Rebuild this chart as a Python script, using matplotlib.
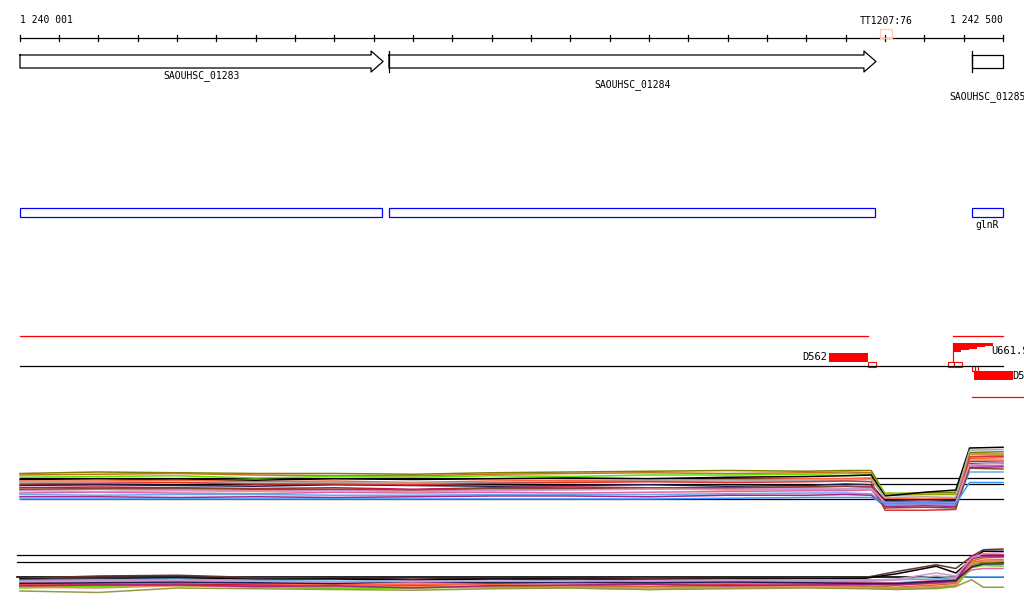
import matplotlib.pyplot as plt

# view and ruler
view_start = 1240001
view_end = 1242500
px_per_bp = 983 / 2499.0

# genes (bp)
gene_names = ['SAOUHSC_01283', 'SAOUHSC_01284', 'SAOUHSC_01285']
gene_starts = [1239800, 1240939, 1242421]
gene_ends = [1240924, 1242177, 1242700]
gene_label_y = [76, 85, 97]
operon_label = ['', '', 'glnR']

# terminator
term_name = 'TT1207:76'
term_pos = 1242202

# expression panel 1 (x positions in bp)
x1 = [1240001, 1240200, 1240400, 1240600, 1240800, 1241000, 1241200, 1241400, 1241600,
      1241800, 1242000, 1242100, 1242165, 1242200, 1242300, 1242380, 1242415, 1242500]
panel1 = {
    '#808000': [10.2, 10.4, 10.3, 10.2, 10.2, 10.1, 10.3, 10.4, 10.5, 10.6, 10.5, 10.6, 10.6, 7.5, 7.6, 7.7, 13.0, 13.1],
    '#c87020': [10.0, 10.1, 10.2, 10.0, 9.9, 9.9, 10.1, 10.2, 10.3, 10.2, 10.3, 10.4, 10.3, 7.3, 7.4, 7.4, 12.8, 12.8],
    '#66dd00': [9.7, 9.8, 9.9, 9.6, 9.8, 9.7, 9.9, 9.8, 10.0, 10.0, 10.1, 10.2, 10.1, 7.6, 7.5, 7.5, 12.5, 12.6],
    '#000000': [9.4, 9.5, 9.4, 9.3, 9.5, 9.4, 9.5, 9.6, 9.5, 9.7, 9.8, 9.9, 10.0, 7.2, 7.7, 8.0, 13.6, 13.7],
    '#ff6633': [9.2, 9.2, 9.3, 9.1, 9.2, 9.0, 9.2, 9.3, 9.3, 9.4, 9.5, 9.5, 9.6, 6.9, 6.8, 6.9, 12.2, 12.3],
    '#aaaaaa': [9.0, 9.1, 9.0, 8.9, 9.0, 8.9, 9.0, 9.1, 9.2, 9.2, 9.3, 9.3, 9.4, 7.0, 7.1, 7.0, 13.3, 13.4],
    '#202050': [8.6, 8.7, 8.6, 8.5, 8.7, 8.6, 8.5, 8.6, 8.7, 8.5, 8.6, 8.8, 8.7, 6.6, 6.7, 6.6, 11.5, 11.6],
    '#cc1144': [8.3, 8.4, 8.3, 8.2, 8.3, 8.1, 8.3, 8.4, 8.3, 8.2, 8.4, 8.5, 8.4, 6.4, 6.5, 6.4, 11.8, 11.9],
    '#ee8866': [8.0, 8.1, 8.0, 7.9, 8.0, 7.9, 8.0, 8.1, 8.2, 8.0, 8.1, 8.1, 8.2, 6.2, 6.3, 6.2, 12.0, 12.0],
    '#dd66aa': [7.6, 7.7, 7.6, 7.5, 7.7, 7.6, 7.7, 7.6, 7.7, 7.8, 7.9, 7.9, 8.0, 6.0, 6.1, 6.0, 11.2, 11.3],
    '#66aaee': [7.4, 7.3, 7.4, 7.4, 7.3, 7.3, 7.4, 7.4, 7.4, 7.5, 7.6, 7.6, 7.5, 6.1, 6.2, 6.1, 10.4, 10.4],
    '#aa2288': [7.1, 7.1, 7.0, 7.1, 7.0, 7.1, 7.2, 7.2, 7.1, 7.3, 7.3, 7.4, 7.3, 5.8, 5.9, 5.8, 11.0, 11.1],
    '#dd3333': [8.8, 8.9, 9.0, 8.8, 8.8, 8.7, 8.9, 9.0, 9.1, 9.0, 9.1, 9.2, 9.1, 5.3, 5.3, 5.4, 12.4, 12.5],
    '#884433': [8.1, 8.2, 8.2, 8.1, 8.1, 8.0, 8.2, 8.2, 8.3, 8.3, 8.4, 8.5, 8.4, 5.6, 5.7, 5.6, 10.9, 10.8],
    '#cc99cc': [7.9, 7.8, 7.9, 7.8, 7.9, 7.8, 7.9, 8.0, 8.1, 8.1, 8.2, 8.2, 8.2, 6.3, 6.4, 6.3, 11.4, 11.6],
    '#3399ff': [6.8, 6.8, 6.8, 6.8, 6.8, 6.8, 6.8, 6.8, 6.8, 6.9, 7.0, 7.0, 7.0, 6.2, 6.3, 6.2, 9.0, 9.0],
}
panel1_ref = [9.6, 8.8, 6.8]

# expression panel 2
x2 = [1240001, 1240200, 1240400, 1240600, 1240800, 1241000, 1241200, 1241400, 1241600,
      1241800, 1242000, 1242150, 1242230, 1242330, 1242380, 1242420, 1242450, 1242500]
panel2 = {
    '#663333': [6.9, 7.2, 7.3, 7.0, 6.9, 6.8, 6.9, 6.8, 6.9, 6.8, 6.9, 7.0, 7.8, 8.7, 8.2, 9.8, 10.7, 10.8],
    '#000000': [6.8, 6.8, 6.9, 6.8, 6.8, 6.7, 6.8, 6.8, 6.7, 6.8, 6.8, 6.9, 7.5, 8.5, 7.6, 9.4, 10.5, 10.5],
    '#66aaee': [6.6, 6.7, 6.8, 6.6, 6.5, 6.6, 6.5, 6.6, 6.6, 6.7, 6.6, 6.7, 6.7, 6.8, 7.0, 7.1, 7.1, 7.1],
    '#aaaaaa': [6.4, 6.5, 6.6, 6.4, 6.4, 6.5, 6.4, 6.5, 6.4, 6.5, 6.6, 6.5, 6.7, 7.2, 7.0, 8.8, 9.3, 9.3],
    '#808000': [5.9, 5.8, 6.0, 5.9, 5.6, 5.7, 5.8, 5.9, 5.8, 5.9, 6.0, 5.8, 5.5, 5.6, 5.9, 8.6, 9.0, 9.1],
    '#c87020': [5.8, 5.9, 6.1, 6.0, 5.8, 5.9, 5.8, 5.9, 5.8, 5.9, 5.8, 5.9, 5.7, 6.0, 6.2, 9.2, 9.6, 9.7],
    '#66dd00': [5.6, 5.8, 5.9, 5.7, 5.5, 5.6, 5.7, 5.6, 5.4, 5.6, 5.7, 5.6, 5.5, 5.5, 5.8, 8.3, 8.6, 8.5],
    '#cc1144': [6.0, 6.1, 6.2, 6.0, 6.1, 6.0, 6.2, 6.3, 6.2, 6.1, 6.2, 6.3, 6.1, 6.4, 6.5, 9.9, 10.0, 10.0],
    '#ff6633': [6.1, 6.2, 6.3, 6.2, 6.0, 6.1, 6.1, 6.2, 6.1, 6.2, 6.2, 6.1, 6.0, 6.2, 6.3, 9.0, 9.3, 9.4],
    '#dd66aa': [6.3, 6.2, 6.4, 6.3, 6.2, 6.3, 6.3, 6.4, 6.2, 6.3, 6.4, 6.4, 6.3, 6.6, 6.8, 8.0, 8.2, 8.2],
    '#ee8866': [5.7, 5.6, 5.9, 5.8, 5.7, 5.8, 5.6, 5.7, 5.6, 5.7, 5.8, 5.7, 5.6, 5.8, 6.0, 8.8, 9.2, 9.2],
    '#aa2288': [5.9, 6.0, 6.0, 5.8, 5.9, 5.6, 5.9, 6.0, 6.1, 5.9, 6.0, 6.1, 6.0, 6.3, 6.5, 9.5, 9.8, 9.8],
    '#202050': [6.2, 6.3, 6.4, 6.3, 6.2, 6.5, 6.3, 6.4, 6.3, 6.4, 6.3, 6.2, 6.2, 6.5, 6.6, 8.4, 8.8, 8.8],
    '#999944': [5.2, 5.0, 5.6, 5.5, 5.4, 5.3, 5.5, 5.6, 5.4, 5.5, 5.6, 5.5, 5.4, 5.6, 5.8, 6.7, 5.7, 5.7],
    '#cc99cc': [6.5, 6.6, 6.6, 6.5, 6.4, 6.5, 6.5, 6.5, 6.6, 6.6, 6.7, 6.6, 6.8, 7.6, 7.2, 9.6, 10.2, 10.3],
}
panel2_ref = [10.0, 9.07, 7.07]

W, H = 1024, 611
xmin = view_start - 20 / px_per_bp
xmax = view_start + (W - 20) / px_per_bp

def bp(px):
    return view_start + (px - 20) / px_per_bp

plt.rcParams['font.family'] = 'DejaVu Sans Mono'
plt.rcParams['font.size'] = 7

fig = plt.figure(figsize=(W / 100, H / 100), dpi=100)
ax = fig.add_axes([0, 0, 1, 1])
ax.set_xlim(xmin, xmax)
ax.set_ylim(H, 0)
ax.axis('off')

# ruler
ax.plot([view_start, view_end], [38, 38], color='black', lw=0.9)
ticks = [view_start] + list(range(1240100, view_end + 1, 100))
for t in ticks:
    ax.plot([t, t], [35, 41], color='black', lw=0.9)
ax.text(view_start, 20, '1 240 001', ha='left', va='center')
ax.text(view_end, 20, '1 242 500', ha='right', va='center')
ax.text(term_pos, 21, term_name, ha='center', va='center')
ax.add_patch(plt.Rectangle((term_pos - 6 / px_per_bp, 29), 12 / px_per_bp, 9,
                           fill=False, ec='#ffc8b4', lw=0.9, zorder=3))

# genes and operons
head = 12 / px_per_bp
for name, s, e, ly, op in zip(gene_names, gene_starts, gene_ends, gene_label_y, operon_label):
    vs, ve = max(s, view_start), min(e, view_end)
    if e <= view_end:
        xs = [vs, e - head, e - head, e, e - head, e - head, vs, vs]
        ys = [55, 55, 51, 61.5, 72, 68, 68, 55]
    else:
        xs = [vs, ve, ve, vs, vs]
        ys = [55, 55, 68, 68, 55]
    ax.plot(xs, ys, color='black', lw=0.9)
    if s >= view_start:
        ax.plot([s, s], [51, 72], color='black', lw=0.9)
    ax.text((vs + ve) / 2, ly, name, ha='center', va='center')
    be = min(e, view_end) - (1 / px_per_bp if e <= view_end else 0)
    ax.add_patch(plt.Rectangle((vs, 208), be - vs, 9, fill=False, ec='#0000ff', lw=0.9))
    if op:
        ax.text((vs + ve) / 2, 225, op, ha='center', va='center')

# segments / probes track
ax.plot([view_start, bp(868)], [336, 336], color='red', lw=0.9)
ax.plot([bp(953), view_end], [336, 336], color='red', lw=0.9)
ax.plot([view_start, view_end], [366, 366], color='black', lw=0.9)
ax.add_patch(plt.Rectangle((bp(829), 353), bp(868) - bp(829), 9, color='red', lw=0))
ax.text(bp(827), 357, 'D562', ha='right', va='center', fontsize=7.5)
for a, b, y0 in [(868, 876, 362), (948, 954, 362), (954, 962, 362), (972, 975, 366), (975, 978, 366)]:
    ax.add_patch(plt.Rectangle((bp(a), y0), bp(b) - bp(a), 4.5, fill=False, ec='red', lw=0.8))
stx = [953, 953, 961, 961, 969, 969, 977, 977, 985, 985, 993, 993]
sty = [343, 352, 352, 350, 350, 348.5, 348.5, 347, 347, 345.5, 345.5, 343]
ax.fill([bp(v) for v in stx], sty, color='red', lw=0)
ax.plot([bp(953), bp(953)], [343, 362], color='red', lw=0.9)
ax.text(bp(991), 351, 'U661.S', ha='left', va='center', fontsize=7.5)
ax.add_patch(plt.Rectangle((bp(974), 371), bp(1013) - bp(974), 9, color='red', lw=0))
ax.text(bp(1012), 376, 'D563', ha='left', va='center', fontsize=7.5)
ax.plot([bp(972), xmax], [397, 397], color='red', lw=0.9)

# expression panels
ax1 = fig.add_axes([0, (H - 520) / H, 1, 90 / H])
ax1.set_xlim(xmin, xmax)
ax1.set_ylim(4, 16)
ax1.axis('off')
for r in panel1_ref:
    ax1.plot([view_start, view_end], [r, r], color='black', lw=0.9, zorder=1)
for c, vals in panel1.items():
    ax1.plot(x1, vals, color=c, lw=1.1, zorder=2)

ax2 = fig.add_axes([0, (H - 600) / H, 1, 60 / H])
ax2.set_xlim(xmin, xmax)
ax2.set_ylim(4, 12)
ax2.axis('off')
for r in panel2_ref:
    ax2.plot([bp(17), view_end], [r, r], color='black', lw=1.2 if r < 8 else 0.9, zorder=1)
for c, vals in panel2.items():
    ax2.plot(x2, vals, color=c, lw=1.1, zorder=2)

fig.savefig('out.png', dpi=100)
